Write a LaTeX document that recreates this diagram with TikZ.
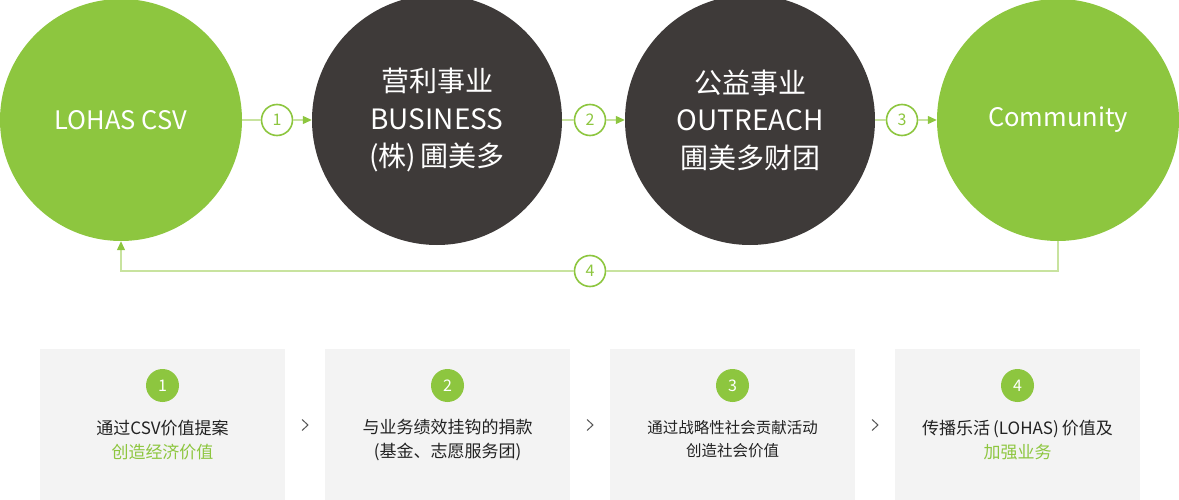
\documentclass[tikz,border=0pt]{standalone}
\usepackage{fontspec}
\setmainfont{Noto Sans CJK SC}
\usetikzlibrary{arrows.meta}
\definecolor{lgreen}{HTML}{8DC63F}
\definecolor{dgray}{HTML}{3E3A39}
\definecolor{pale}{HTML}{C8E39F}
\definecolor{boxbg}{HTML}{F3F3F3}
\definecolor{txt}{HTML}{222222}
\definecolor{chevc}{HTML}{555555}
\begin{document}
\begin{tikzpicture}[x=1pt,y=-1pt,
  greenball/.style={circle,fill=lgreen,minimum size=242pt,inner sep=0pt,text=white,font=\fontsize{25.5}{30}\selectfont},
  darkball/.style={circle,fill=dgray,minimum size=250pt,inner sep=0pt,text=white,align=center,font=\fontsize{28}{37.5}\selectfont},
  numring/.style={circle,draw=lgreen,line width=1.6pt,fill=white,minimum size=31pt,inner sep=0pt,text=lgreen,font=\fontsize{16}{16}\selectfont},
  conn/.style={draw=pale,line width=1.2pt},
  arr/.style={-{Triangle[length=9pt,width=8pt,color=lgreen]}},
  panel/.style={rectangle,fill=boxbg,minimum width=245pt,minimum height=151pt,inner sep=0pt},
  numdot/.style={circle,fill=lgreen,minimum size=33pt,inner sep=0pt,text=white,font=\fontsize{16}{16}\selectfont},
  paneltext/.style={align=center,text=txt,font=\fontsize{17}{24.5}\selectfont},
  chev/.style={draw=chevc,line width=1pt}
]
\useasboundingbox (0,0) rectangle (1179,500);

% top circles
\node[greenball] (c1) at (121,120) {LOHAS CSV};
\node[darkball] (c2) at (437,120) {营利事业\\BUSINESS\\(株)\hspace{5pt}圃美多};
\node[darkball] (c3) at (750,120) {公益事业\\OUTREACH\\圃美多财团};
\node[greenball] (c4) at (1058,120) {Community};

% number rings
\node[numring] (n1) at (277,120) {1};
\node[numring] (n2) at (590,120) {2};
\node[numring] (n3) at (902,120) {3};
\node[numring] (n4) at (590,271) {4};

\draw[conn] (c1.east) -- (n1.west);
\draw[conn,arr] (n1.east) -- (c2.west);
\draw[conn] (c2.east) -- (n2.west);
\draw[conn,arr] (n2.east) -- (c3.west);
\draw[conn] (c3.east) -- (n3.west);
\draw[conn,arr] (n3.east) -- (c4.west);
\draw[conn] (c4.south) |- (n4.east);
\draw[conn,arr] (n4.west) -| (c1.south);

% panels
\node[panel] (p1) at (162.5,424.5) {};
\node[panel] (p2) at (447.5,424.5) {};
\node[panel] (p3) at (732.5,424.5) {};
\node[panel] (p4) at (1017.5,424.5) {};

\node[numdot] (d1) at (162.5,385.5) {1};
\node[numdot] (d2) at (447.5,385.5) {2};
\node[numdot] (d3) at (732.5,385.5) {3};
\node[numdot] (d4) at (1017.5,385.5) {4};

\node[paneltext] (t1) at (162.5,440) {通过CSV价值提案\\\textcolor{lgreen}{创造经济价值}};
\node[paneltext] (t2) at (447.5,440) {与业务绩效挂钩的捐款\\(基金、志愿服务团)};
\node[paneltext,font=\fontsize{15.5}{23}\selectfont] (t3) at (732.5,439) {通过战略性社会贡献活动\\创造社会价值};
\node[paneltext] (t4) at (1017.5,440) {传播乐活\hspace{3pt}(LOHAS)\hspace{3pt}价值及\\\textcolor{lgreen}{加强业务}};

% chevrons
\draw[chev] (302,419.5) -- (308,425) -- (302,430.5);
\draw[chev] (587,419.5) -- (593,425) -- (587,430.5);
\draw[chev] (872,419.5) -- (878,425) -- (872,430.5);
\end{tikzpicture}
\end{document}
